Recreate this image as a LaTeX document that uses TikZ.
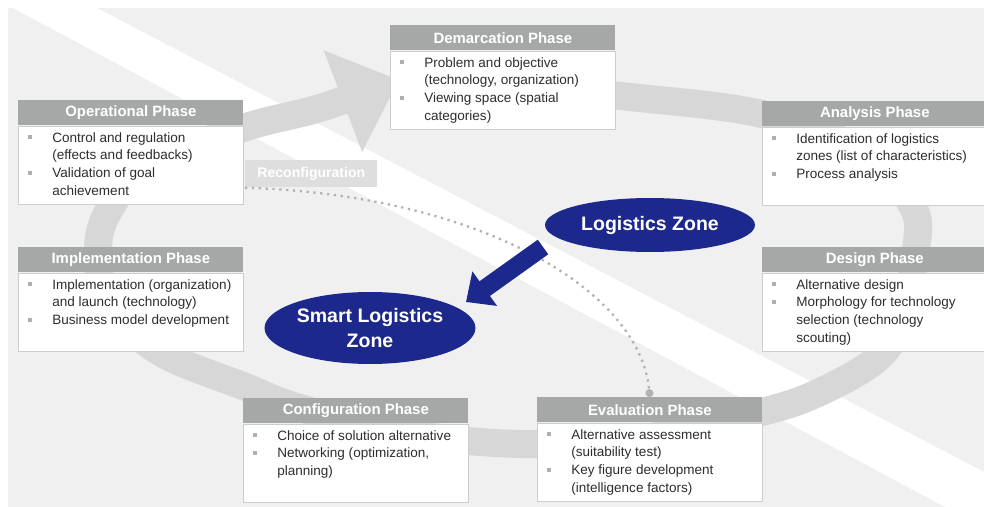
\documentclass[tikz,border=0pt]{standalone}
\usepackage{fontspec}
\setmainfont{Liberation Sans}
\usetikzlibrary{shapes.geometric}
\usetikzlibrary{positioning}
\usetikzlibrary{arrows.meta}

% bullet line and fixed-height text block for the phase boxes
\newcommand{\pitem}{\par\noindent\llap{\textcolor{bulletgray}{\rule[1.7pt]{2.2pt}{2.2pt}}\hspace{0.4cm}}}
\newcommand{\phaselist}[1]{\parbox[t][1.56cm][t]{4.5cm}{\fontsize{7.7}{10.1}\selectfont\color{textgray}\leftskip=0.68cm\rightskip=0pt plus 1fil\vspace*{3.5pt}#1}}

\begin{document}
\begin{tikzpicture}[x=0.02cm,y=-0.02cm,
	phase head/.style={anchor=north west,fill=headgray,text=white,minimum width=4.5cm,
		minimum height=0.5cm,inner sep=0pt,font=\fontsize{8.5}{10}\selectfont\bfseries},
	phase body/.style={draw=boxline,line width=0.6pt,fill=white,inner sep=0pt},
	zone node/.style={ellipse,fill=zoneblue,text=white,inner sep=0pt,align=center,
		font=\fontsize{11.1}{13.7}\selectfont\bfseries},
	ring/.style={draw=ringgray,line width=0.56cm,-{Triangle[length=1.2cm,width=2.1cm]}},
	reconf line/.style={draw=dotgray,line width=1.3pt,dash pattern=on 1.3pt off 2.6pt,
		-{Circle[length=4.5pt]}},
	zone arrow/.style={draw=zoneblue,line width=0.36cm,-{Triangle[length=0.46cm,width=0.82cm]}}]
	
	\definecolor{bggray}{RGB}{240,240,240}
	\definecolor{ringgray}{RGB}{215,215,215}
	\definecolor{headgray}{RGB}{166,168,168}
	\definecolor{boxline}{RGB}{205,205,205}
	\definecolor{textgray}{RGB}{45,45,45}
	\definecolor{bulletgray}{RGB}{175,175,175}
	\definecolor{labelgray}{RGB}{222,222,222}
	\definecolor{dotgray}{RGB}{178,178,178}
	\definecolor{zoneblue}{RGB}{28,40,140}
	
	\useasboundingbox (0,0) rectangle (984,507);
	\fill[white] (0,0) rectangle (984,507);
	\fill[bggray] (8,8) rectangle (984,507);
	% white diagonal band
	\fill[white] (13,8) -- (97,8) -- (984,472) -- (984,507) -- (945,507) -- cycle;
	
	% cycle ring
	\draw[ring] plot[smooth,tension=0.6] coordinates {(540,89) (630,97) (762,114) (860,150)
		(912,205) (916,250) (900,320) (878,358) (820,392) (762,412) (650,437) (520,444)
		(400,432) (300,408) (243,386) (160,352) (110,305) (98,255) (108,212) (150,165)
		(243,128) (320,108) (399,80)};
	
	\node[phase head] (dem-h) at (390,25) {Demarcation Phase};
	\node[phase body,below=0pt of dem-h] (dem) {\phaselist{\pitem Problem and objective\\(technology, organization)\pitem Viewing space (spatial\\categories)}};
	
	\node[phase head] (ana-h) at (762,101) {Analysis Phase};
	\node[phase body,below=0pt of ana-h] (ana) {\phaselist{\pitem Identification of logistics\\zones (list of characteristics)\pitem Process analysis}};
	
	\node[phase head] (des-h) at (762,247) {Design Phase};
	\node[phase body,below=0pt of des-h] (des) {\phaselist{\pitem Alternative design\pitem Morphology for technology\\selection (technology\\scouting)}};
	
	\node[phase head] (eva-h) at (537,397) {Evaluation Phase};
	\node[phase body,below=0pt of eva-h] (eva) {\phaselist{\pitem Alternative assessment\\(suitability test)\pitem Key figure development\\(intelligence factors)}};
	
	\node[phase head] (con-h) at (243,398) {Configuration Phase};
	\node[phase body,below=0pt of con-h] (con) {\phaselist{\pitem Choice of solution alternative\pitem Networking (optimization,\\planning)}};
	
	\node[phase head] (imp-h) at (18,247) {Implementation Phase};
	\node[phase body,below=0pt of imp-h] (imp) {\phaselist{\pitem Implementation (organization)\\and launch (technology)\pitem Business model development}};
	
	\node[phase head] (ope-h) at (18,100) {Operational Phase};
	\node[phase body,below=0pt of ope-h] (ope) {\phaselist{\pitem Control and regulation\\(effects and feedbacks)\pitem Validation of goal\\achievement}};
	
	\node[anchor=north west,fill=labelgray,text=white,minimum width=2.64cm,minimum height=0.54cm,
		inner sep=0pt,font=\fontsize{8}{10}\selectfont\bfseries] (reconf) at (245,160) {Reconfiguration};
	
	\draw[reconf line] (reconf.south west) .. controls (480,195) and (640,290) .. (eva-h.north);
	
	\node[zone node,minimum width=4.2cm,minimum height=1.08cm] (lz) at (650,225) {Logistics Zone};
	\node[zone node,minimum width=4.22cm,minimum height=1.44cm] (slz) at (370,328) {Smart Logistics\\Zone};
	
	\draw[zone arrow] ([shift={(-107,22)}]lz.center) -- ([shift={(96,-26)}]slz.center);
\end{tikzpicture}
\end{document}
